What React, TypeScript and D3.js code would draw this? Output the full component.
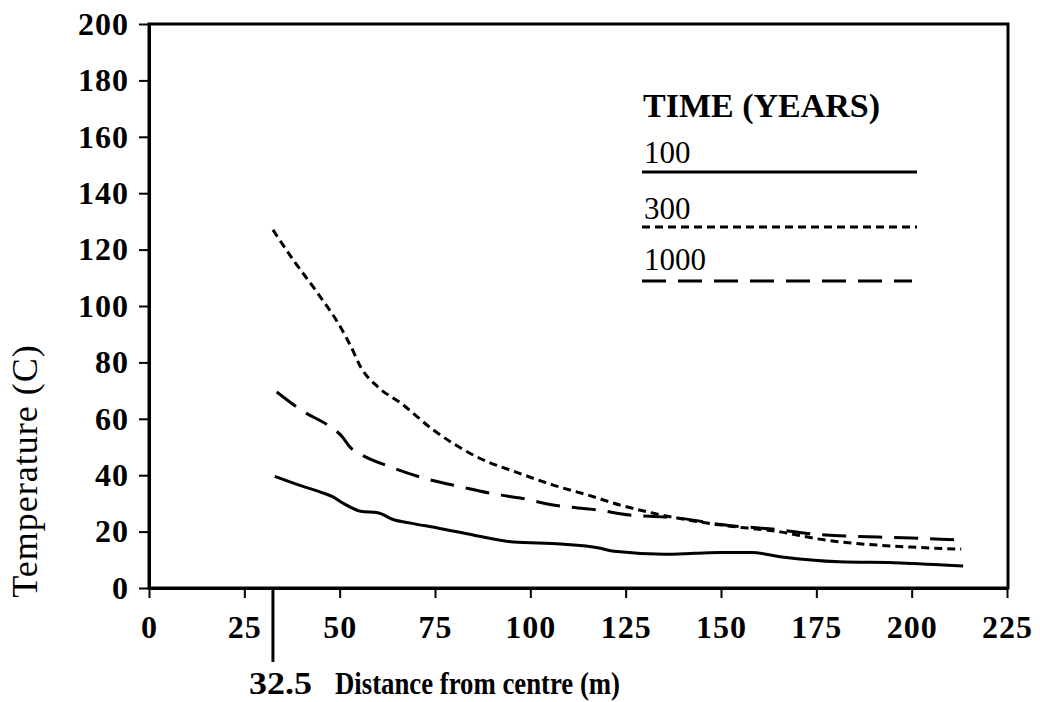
import { useEffect, useRef } from "react";
import * as d3 from "d3";

const WIDTH = 1040;
const HEIGHT = 702;
const PLOT = { left: 149, right: 1008, top: 24, bottom: 588 };
const FONT = "'Liberation Serif', 'Times New Roman', serif";

const xTicks = [0, 25, 50, 75, 100, 125, 150, 175, 200, 225];
const yTicks = [0, 20, 40, 60, 80, 100, 120, 140, 160, 180, 200];

// 100 years (solid)
const dist100 = [33, 40, 45, 48, 51, 55.5, 60, 64, 68.6, 75.7, 85, 95.6, 108, 118, 122, 135, 143, 150, 158, 166, 181, 197, 213.5];
const temp100 = [39.6, 36.2, 34, 32.5, 30, 27.2, 26.7, 24.3, 23, 21.3, 18.8, 16.3, 15.6, 14.2, 13, 12, 12.3, 12.6, 12.6, 11, 9.3, 8.9, 7.8];

// 300 years (short dash)
const dist300 = [32.5, 38, 44, 50, 53, 55.5, 60, 66, 74.6, 86, 97.5, 106, 115, 123.6, 132, 138.5, 150, 165.5, 175, 200, 213];
const temp300 = [127, 116, 105, 93, 85.5, 78.4, 71.3, 65.6, 56, 46.5, 40.5, 36.5, 33, 29.4, 26.6, 24.8, 22.3, 19.9, 17.5, 14.5, 13.8];

// 1000 years (long dash)
const dist1000 = [33.5, 40, 47.7, 50.3, 53, 55, 64, 72, 82, 92, 97.4, 106, 117.6, 126, 135, 140, 150, 165.5, 175, 200, 213];
const temp1000 = [69.5, 63, 57, 54.2, 49.6, 47.8, 42.6, 39, 35.8, 33, 31.9, 29.4, 27.7, 25.9, 25.2, 24.6, 22.5, 20.6, 19, 17.7, 17];

const legendTitle = "TIME (YEARS)";
const legendLabels = ["100", "300", "1000"];
const legendDashes = [null, "8,5", "24,12"];
const seriesDist = [dist100, dist300, dist1000];
const seriesTemp = [temp100, temp300, temp1000];

export default function App() {
  const ref = useRef<SVGGElement>(null);

  useEffect(() => {
    if (!ref.current) return;
    const g = d3.select(ref.current);
    g.selectAll("*").remove();

    const x = d3.scaleLinear().domain([0, 225]).range([PLOT.left, PLOT.right - 1]);
    const y = d3.scaleLinear().domain([0, 200]).range([PLOT.bottom, PLOT.top]);

    // frame
    g.append("rect")
      .attr("x", PLOT.left)
      .attr("y", PLOT.top)
      .attr("width", PLOT.right - PLOT.left)
      .attr("height", PLOT.bottom - PLOT.top)
      .attr("fill", "none")
      .attr("stroke", "#000")
      .attr("stroke-width", 3);

    const yAxis = g
      .append("g")
      .attr("transform", `translate(${PLOT.left},0)`)
      .call(d3.axisLeft(y).tickValues(yTicks).tickSize(10).tickPadding(10).tickSizeOuter(0));
    const xAxis = g
      .append("g")
      .attr("transform", `translate(0,${PLOT.bottom})`)
      .call(d3.axisBottom(x).tickValues(xTicks).tickSize(10).tickPadding(17).tickSizeOuter(0));

    [yAxis, xAxis].forEach((ax) => {
      ax.select(".domain").attr("stroke-width", 3);
      ax.selectAll(".tick line").attr("stroke-width", 2);
      ax.selectAll(".tick text")
        .attr("font-family", FONT)
        .attr("font-size", 32)
        .attr("font-weight", "bold")
        .attr("letter-spacing", 1)
        .attr("fill", "#000");
    });

    // 32.5 marker
    g.append("line")
      .attr("x1", x(32.5))
      .attr("x2", x(32.5))
      .attr("y1", PLOT.bottom)
      .attr("y2", 662)
      .attr("stroke", "#000")
      .attr("stroke-width", 3);

    // curves
    const line = d3
      .line<[number, number]>()
      .x((d) => x(d[0]))
      .y((d) => y(d[1]))
      .curve(d3.curveMonotoneX);

    seriesDist.forEach((dists, i) => {
      const pts = dists.map((d, j) => [d, seriesTemp[i][j]] as [number, number]);
      g.append("path")
        .attr("d", line(pts))
        .attr("fill", "none")
        .attr("stroke", "#000")
        .attr("stroke-width", 3)
        .attr("stroke-dasharray", legendDashes[i]);
    });

    // legend
    g.append("text")
      .attr("x", 643)
      .attr("y", 117)
      .attr("font-family", FONT)
      .attr("font-size", 34)
      .attr("font-weight", "bold")
      .text(legendTitle);

    const legendTextY = [163, 219, 270];
    const legendLineY = [172, 227, 281];
    legendLabels.forEach((lab, i) => {
      g.append("text")
        .attr("x", 644)
        .attr("y", legendTextY[i])
        .attr("font-family", FONT)
        .attr("font-size", 31)
        .text(lab);
      g.append("line")
        .attr("x1", 642)
        .attr("x2", i === 2 ? 912 : 917)
        .attr("y1", legendLineY[i])
        .attr("y2", legendLineY[i])
        .attr("stroke", "#000")
        .attr("stroke-width", 3)
        .attr("stroke-dasharray", legendDashes[i]);
    });

    // axis titles
    g.append("text")
      .attr("x", 249)
      .attr("y", 694)
      .attr("font-family", FONT)
      .attr("font-size", 32)
      .attr("font-weight", "bold")
      .attr("textLength", 63)
      .attr("lengthAdjust", "spacingAndGlyphs")
      .text("32.5");
    g.append("text")
      .attr("x", 335)
      .attr("y", 694)
      .attr("font-family", FONT)
      .attr("font-size", 31)
      .attr("font-weight", "bold")
      .attr("textLength", 285)
      .attr("lengthAdjust", "spacingAndGlyphs")
      .text("Distance from centre (m)");

    g.append("text")
      .attr("transform", `translate(37,471) rotate(-90)`)
      .attr("text-anchor", "middle")
      .attr("font-family", FONT)
      .attr("font-size", 36)
      .attr("letter-spacing", 1)
      .text("Temperature (C)");
  }, []);

  return (
    <svg
      width={WIDTH}
      height={HEIGHT}
      style={{ position: "absolute", left: 0, top: 0, background: "#fff" }}
    >
      <g ref={ref} />
    </svg>
  );
}
